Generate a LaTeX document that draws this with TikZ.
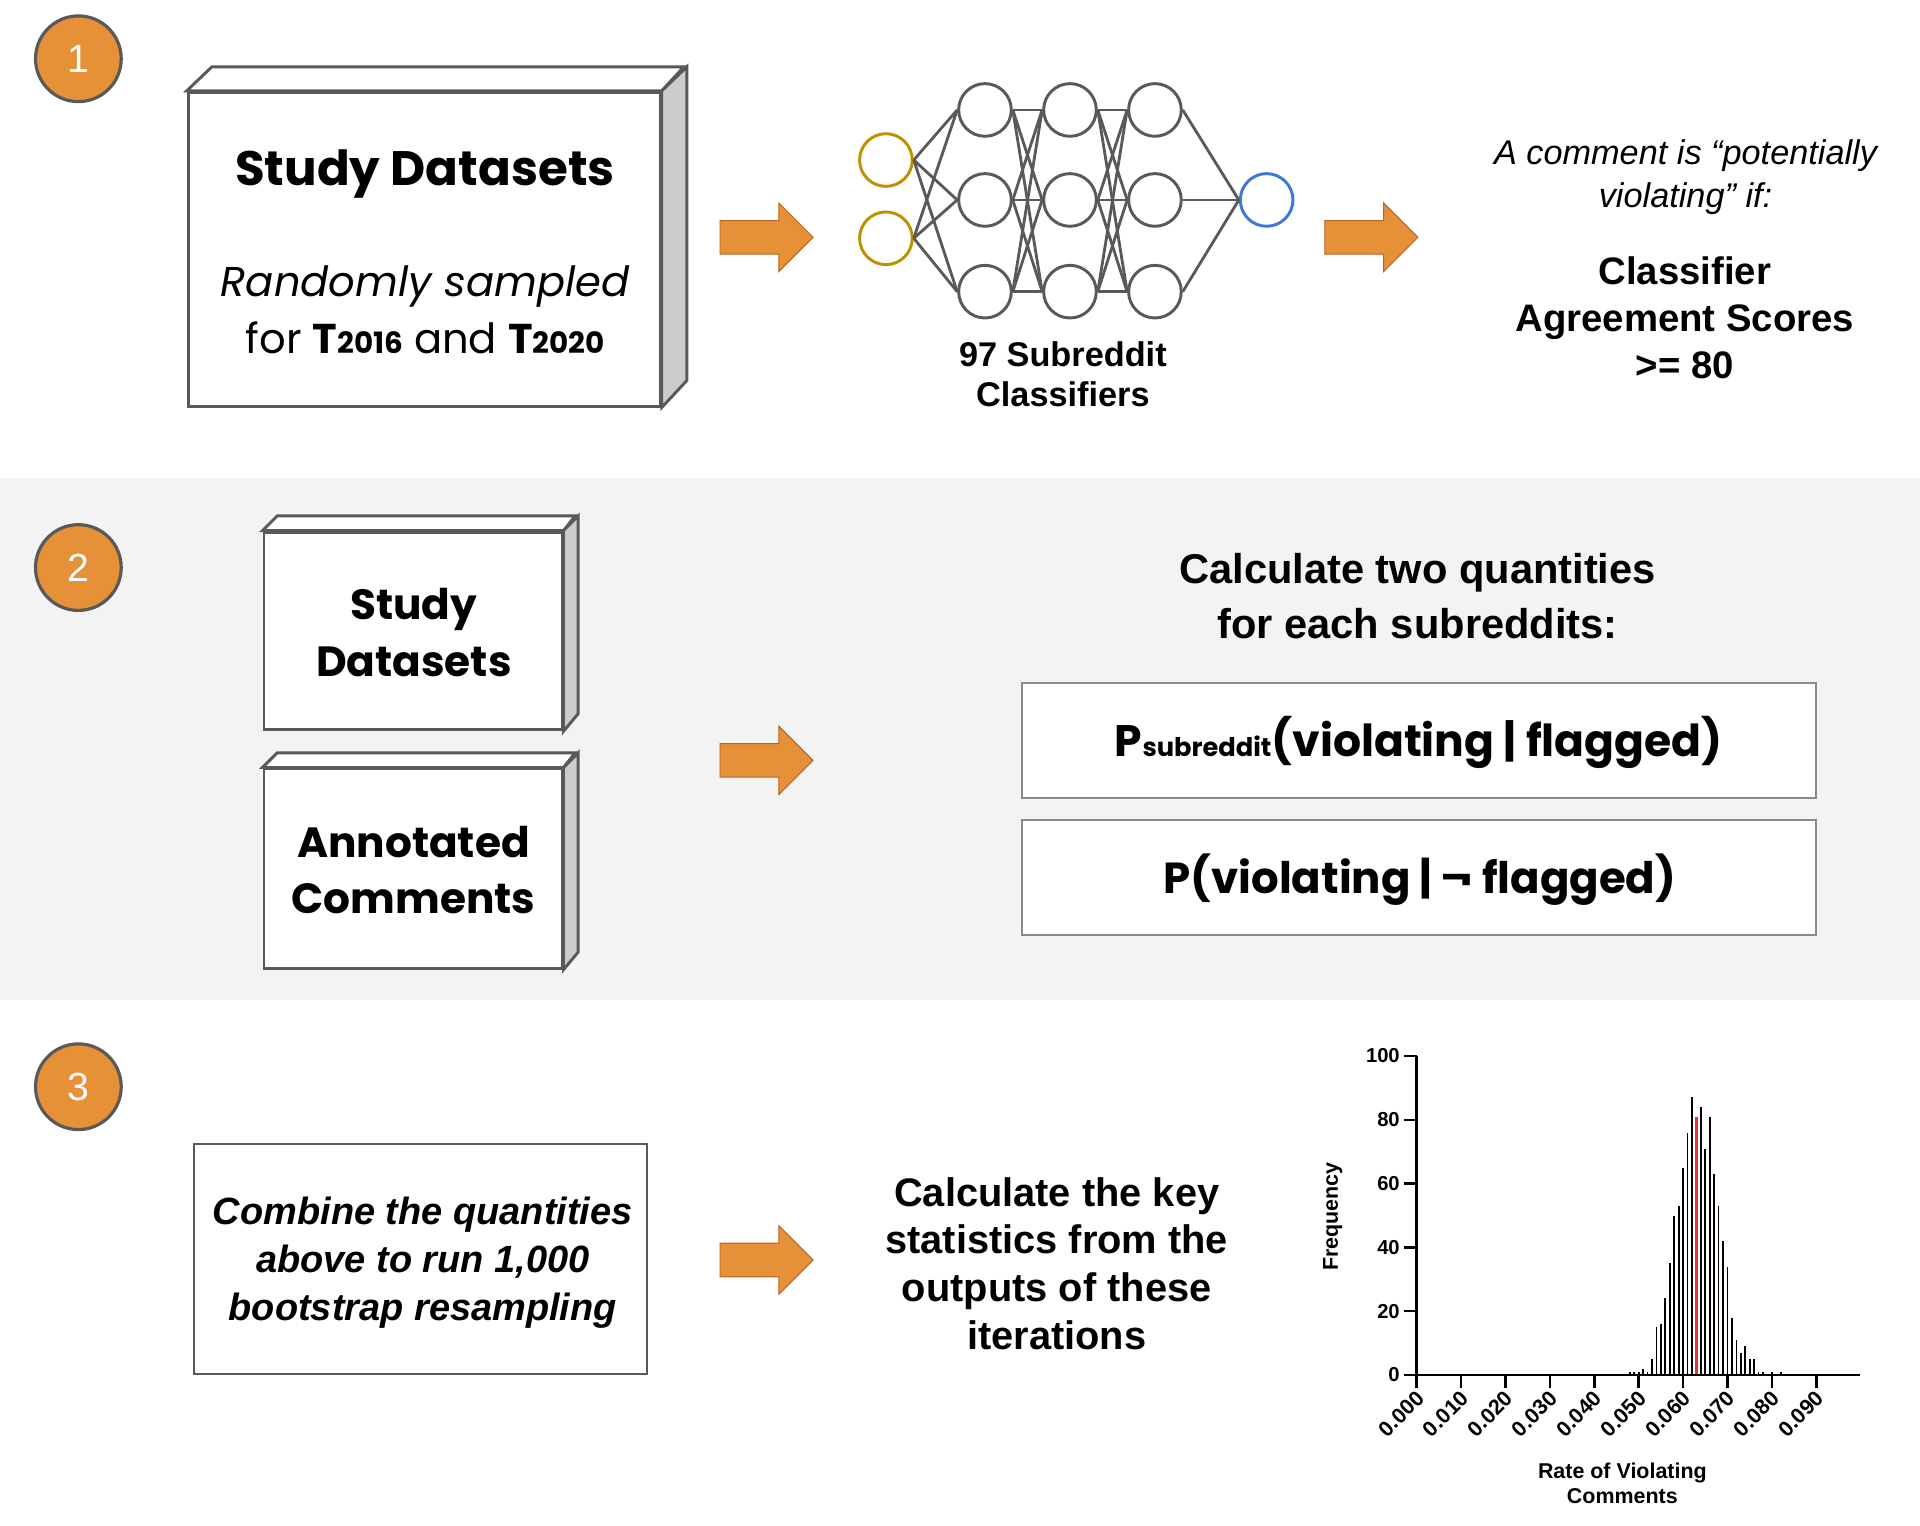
\documentclass[tikz,border=0pt]{standalone}
\usepackage{fontspec}
\setmainfont{Liberation Sans}
\newfontfamily\raw{Poppins}
\definecolor{orng}{HTML}{E69138}
\definecolor{orngdk}{HTML}{B7651F}
\definecolor{dgray}{HTML}{595959}
\definecolor{sidegray}{HTML}{CCCCCC}
\definecolor{bandgray}{HTML}{F3F3F3}
\definecolor{rectgray}{HTML}{8A8A8A}
\definecolor{nnyellow}{HTML}{BF9000}
\definecolor{nnblue}{HTML}{3C78D8}
\definecolor{barred}{HTML}{D9383A}
\begin{document}
\begin{tikzpicture}[x=1pt,y=-1pt,
  numc/.style={circle,fill=orng,draw=dgray,line width=2.6pt,minimum size=70pt,inner sep=0pt,text=white,font=\fontsize{32}{32}\selectfont},
  front/.style={draw=dgray,line width=2.4pt,fill=white,inner sep=0pt,rectangle},
  face/.style={draw=dgray,line width=2.4pt,line join=miter},
  barrow/.style={fill=orng,draw=orngdk,line width=0.8pt,line join=miter},
  nn/.style={circle,draw=dgray,line width=2.4pt,minimum size=43pt,inner sep=0pt,fill=white},
  nnedge/.style={draw=dgray,line width=2.3pt},
  qrect/.style={draw=rectgray,line width=1.6pt,fill=white,inner sep=0pt,rectangle},
  crect/.style={draw=dgray,line width=2pt,fill=white,inner sep=0pt,rectangle},
  lbl/.style={inner sep=0pt,anchor=base,align=center},
  axis/.style={draw=black,line width=2pt},
  ticklbl/.style={inner sep=0pt,font=\bfseries\fontsize{16.5}{16.5}\selectfont},
  xticklbl/.style={inner sep=0pt,font=\bfseries\fontsize{17.5}{17.5}\selectfont},
  bar/.style={fill=black,draw=none},
  redbar/.style={fill=barred,draw=none}
]
\useasboundingbox (0,0) rectangle (1568,1246);
\fill[white] (0,0) rectangle (1568,1246);
\fill[bandgray] (0,390.6) rectangle (1568,816.7);

% step circles
\node[numc] (n1) at (64,48) {1};
\node[numc] (n2) at (64,463.5) {2};
\node[numc] (n3) at (64,887.5) {3};

% ---------- row 1 ----------
\node[front, minimum width=385.5pt, minimum height=256.2pt] (sd1) at (346.45,203.5) {};
\draw[face, fill=white] (sd1.north west) -- ++(20.5,-19.6) -- ++(385.5,0) -- (sd1.north east) -- cycle;
\draw[face, fill=sidegray] (sd1.north east) -- ++(20.5,-19.6) -- ++(0,256.2) -- (sd1.south east) -- cycle;
\node[lbl, font=\raw\bfseries\fontsize{39.5}{39.5}\selectfont] (sd1a) at (347,151.1) {Study Datasets};
\node[lbl, font=\raw\fontsize{34}{46.2}\selectfont] (sd1b) at (347.2,288.5)
  {{\itshape Randomly sampled}\\for {\bfseries T{\fontsize{24}{24}\selectfont 2016}} and {\bfseries T{\fontsize{24}{24}\selectfont 2020}}};

% block arrows
\foreach \ax/\ay/\nm in {588/193.8/ar1, 1082/193.8/ar2, 588/621/ar3, 588/1029/ar4} {
  \draw[barrow] (\ax,\ay-13.7) -- ++(48,0) -- ++(0,-14.3) -- (\ax+76,\ay) -- (\ax+48,\ay+28) -- ++(0,-14.3) -- (\ax,\ay+13.7) -- cycle;
}

% neural network
\node[nn, draw=nnyellow] (i1) at (723.5,130.7) {};
\node[nn, draw=nnyellow] (i2) at (723.5,194.6) {};
\foreach \c/\xx in {1/804.4, 2/873.8, 3/943.2} {
  \foreach \r/\yy in {1/89.8, 2/163.3, 3/238.2} {
    \node[nn] (h\c\r) at (\xx,\yy) {};
  }
}
\node[nn, draw=nnblue] (o1) at (1034.4,163.3) {};
\foreach \a in {1,2} \foreach \b in {1,2,3} \draw[nnedge] (i\a.east) -- (h1\b.west);
\foreach \a in {1,2,3} \foreach \b in {1,2,3} {
  \draw[nnedge] (h1\a.east) -- (h2\b.west);
  \draw[nnedge] (h2\a.east) -- (h3\b.west);
}
\foreach \a in {1,2,3} \draw[nnedge] (h3\a.east) -- (o1.west);
\node[lbl, font=\bfseries\fontsize{28}{33}\selectfont] (nnlbl) at (868,332) {97 Subreddit\\Classifiers};

% criterion
\node[lbl, font=\itshape\fontsize{28}{34.6}\selectfont] (crit1) at (1376.5,169.3) {A comment is “potentially\\violating” if:};
\node[lbl, font=\bfseries\fontsize{31.3}{38.2}\selectfont] (crit2) at (1376,309) {Classifier\\Agreement Scores\\>= 80};

% ---------- row 2 ----------
\node[front, minimum width=243.4pt, minimum height=161.5pt] (sd2) at (337.3,515.25) {};
\draw[face, fill=white] (sd2.north west) -- ++(12,-12) -- ++(243.4,0) -- (sd2.north east) -- cycle;
\draw[face, fill=sidegray] (sd2.north east) -- ++(12,-12) -- ++(0,161.5) -- (sd2.south east) -- cycle;
\node[lbl, font=\raw\bfseries\fontsize{34.5}{46.3}\selectfont] (sd2t) at (338,552.6) {Study\\Datasets};

\node[front, minimum width=243.4pt, minimum height=162.7pt] (ac) at (337.3,709.35) {};
\draw[face, fill=white] (ac.north west) -- ++(12,-12) -- ++(243.4,0) -- (ac.north east) -- cycle;
\draw[face, fill=sidegray] (ac.north east) -- ++(12,-12) -- ++(0,162.7) -- (ac.south east) -- cycle;
\node[lbl, font=\raw\bfseries\fontsize{34.5}{45.8}\selectfont] (act) at (337.6,745.9) {Annotated\\Comments};

\node[lbl, font=\bfseries\fontsize{34}{44.9}\selectfont] (calc2) at (1157.7,521.3) {Calculate two quantities\\for each subreddits:};
\node[qrect, minimum width=647.9pt, minimum height=93.9pt] (r1) at (1158.85,604.45) {};
\node[qrect, minimum width=647.9pt, minimum height=93.3pt] (r2) at (1158.85,716.65) {};
\node[lbl, font=\raw\bfseries\fontsize{36}{36}\selectfont] (r1t) at (1158.8,618) {P{\fontsize{21}{21}\selectfont subreddit}(violating | flagged)};
\node[lbl, font=\raw\bfseries\fontsize{35.5}{35.5}\selectfont] (r2t) at (1159.5,730) {P(violating | ¬ flagged)};

% ---------- row 3 ----------
\node[crect, minimum width=370.2pt, minimum height=187.7pt] (cmb) at (343.5,1028.15) {};
\node[lbl, font=\bfseries\itshape\fontsize{31}{39.3}\selectfont] (cmbt) at (345.3,1078.6) {Combine the quantities\\above to run 1,000\\bootstrap resampling};
\node[lbl, font=\bfseries\fontsize{32.5}{39}\selectfont] (keyst) at (863,1102) {Calculate the key\\statistics from the\\outputs of these\\iterations};

% histogram
\coordinate (org) at (1156.9,1122.9);
\coordinate (ytop) at (1156.9,862.4);
\coordinate (xend) at (1518.6,1122.9);
\foreach \i/\h in {48/1,49/1,50/1,51/2,52/1,53/5,54/15,55/16,56/24,57/35,58/50,59/53,60/65,61/76,62/87,64/84,65/71,66/81,67/63,68/53,69/42,70/34,71/18,72/11,73/7,74/9,75/5,76/5,77/1,78/1,80/1,82/1} {
  \fill[bar] (1156.9+\i*3.627-0.7,1122.9) rectangle (1156.9+\i*3.627+0.7,1122.9-\h*2.605);
}
\fill[redbar] (1156.9+63*3.627-0.9,1122.9) rectangle (1156.9+63*3.627+0.9,1122.9-81*2.605);
\draw[axis] (ytop) -- (org) -- (xend);
\foreach \v in {0,20,40,60,80,100} {
  \draw[axis] (1156.9,1122.9-\v*2.605) -- ++(-10.5,0);
  \node[ticklbl, anchor=east] (yl\v) at (1143.3,1122.9-\v*2.605) {\v};
}
\foreach \k in {0,...,9} {
  \draw[axis] (1156.9+\k*36.27,1122.9) -- ++(0,11);
  \node[xticklbl, rotate=45, anchor=east] (xl\k) at (1160+\k*36.27,1139) {0.0\k0};
}
\node[lbl, rotate=90, font=\bfseries\fontsize{17.5}{17.5}\selectfont] (ylab) at (1092.5,993.6) {Frequency};
\node[lbl, font=\bfseries\fontsize{17.5}{20.4}\selectfont] (xlab) at (1324.9,1227.7) {Rate of Violating\\Comments};
\end{tikzpicture}
\end{document}
